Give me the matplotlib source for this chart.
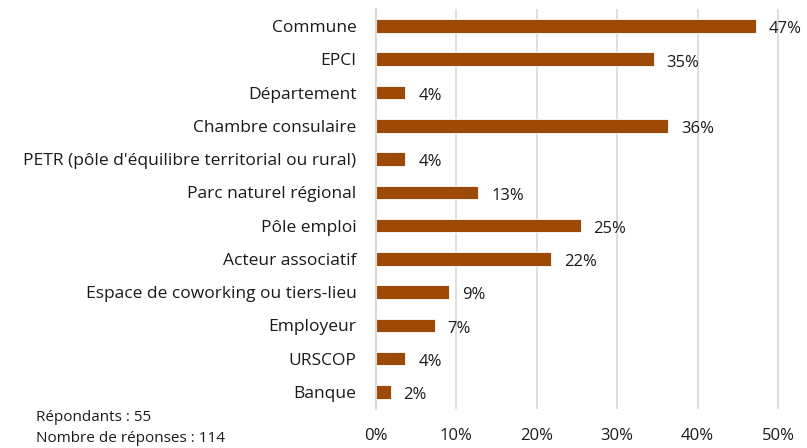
import matplotlib
matplotlib.use("Agg")
import matplotlib.pyplot as plt
from matplotlib.ticker import FuncFormatter

plt.rcParams['font.family'] = ['Open Sans', 'DejaVu Sans']

categories = ["Commune", "EPCI", "Département", "Chambre consulaire",
              "PETR (pôle d'équilibre territorial ou rural)", "Parc naturel régional",
              "Pôle emploi", "Acteur associatif", "Espace de coworking ou tiers-lieu",
              "Employeur", "URSCOP", "Banque"]
counts = [26, 19, 2, 20, 2, 7, 14, 12, 5, 4, 2, 1]
respondents = 55
values = [c / respondents * 100 for c in counts]
xticks = [0, 10, 20, 30, 40, 50]

fig = plt.figure(figsize=(8.07, 4.48), dpi=100)
ax = fig.add_axes([0.466, 0.088, 0.503, 0.891])

y = list(range(len(categories)))
ax.barh(y, values, height=0.41, color='#9C4A06', edgecolor='white', linewidth=0.6, zorder=3)
for yi, v in zip(y, values):
    ax.text(v + 1.6, yi + 0.1, f"{round(v):d}%", va='center', ha='left', fontsize=12, color='#1a1a1a')

ax.set_ylim(len(categories) - 0.5, -0.5)
ax.set_xlim(0, 50.5)
ax.set_xticks(xticks)
ax.xaxis.set_major_formatter(FuncFormatter(lambda v, p: f"{int(v)}%"))
ax.set_yticks(y)
ax.set_yticklabels(categories, fontsize=12.5, color='#1a1a1a')
ax.tick_params(axis='x', labelsize=12, colors='#1a1a1a', length=0, pad=14)
ax.tick_params(axis='y', length=0, pad=14)
ax.grid(axis='x', color='#d9d9d9', linewidth=1.2, zorder=0)
for s in ['top', 'right', 'bottom']:
    ax.spines[s].set_visible(False)
ax.spines['left'].set_color('#d9d9d9')
ax.spines['left'].set_linewidth(1.5)
ax.spines['left'].set_zorder(4)

fig.text(0.045, 0.068, "Répondants : 55", fontsize=11, color='#1a1a1a', va='center')
fig.text(0.045, 0.022, "Nombre de réponses : 114", fontsize=11, color='#1a1a1a', va='center')

fig.savefig("out.png", dpi=100)
